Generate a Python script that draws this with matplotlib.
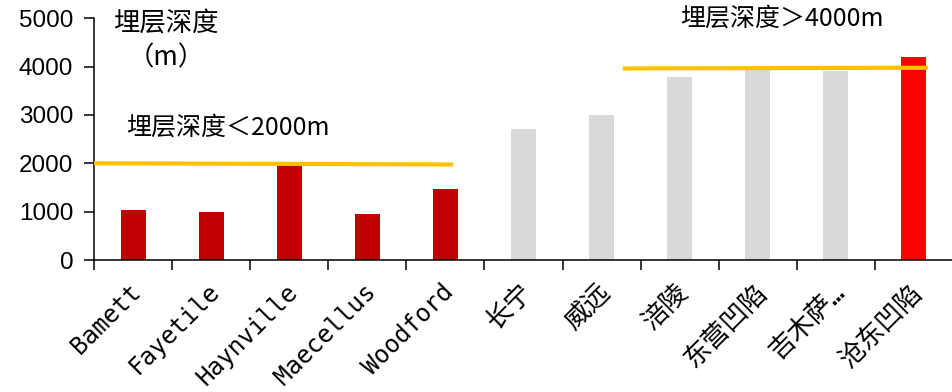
import matplotlib.pyplot as plt
import matplotlib.transforms as mtrans
import numpy as np

plt.rcParams['font.family'] = ['DejaVu Sans Mono', 'Noto Sans CJK SC']

# burial depth of shale gas plays (m)
basins = ["Bamett", "Fayetile", "Haynville", "Maecellus", "Woodford",
          "长宁", "威远", "涪陵", "东营凹陷", "吉木萨…", "沧东凹陷"]
depth = [1040, 1000, 1950, 950, 1470, 2700, 3000, 3780, 3960, 3900, 4200]
colors = ["#C00000"] * 5 + ["#D9D9D9"] * 5 + ["#FF0000"]

# reference lines for shallow / deep groups
shallow_x = [-0.5, 4.1]
shallow_y = [2000, 1975]
deep_x = [6.27, 10.18]
deep_y = [3960, 3975]

fig = plt.figure(figsize=(9.53, 3.92), dpi=100)
ax = fig.add_axes([0.0986, 0.3367, 0.9014, 0.617])

x = np.arange(len(basins))
ax.bar(x, depth, width=0.32, color=colors, zorder=2)
ax.plot(shallow_x, shallow_y, color="#FFC000", lw=3, zorder=3, solid_capstyle="butt")
ax.plot(deep_x, deep_y, color="#FFC000", lw=3, zorder=3, solid_capstyle="butt")

ax.set_xlim(-0.5, len(basins) - 0.5)
ax.set_ylim(0, 5000)
ax.set_yticks(range(0, 5001, 1000))
ax.set_yticklabels([str(v) for v in range(0, 5001, 1000)],
                   family="Liberation Sans", fontsize=17.5)
ax.tick_params(axis="y", length=7, width=1.1, pad=8)

ax.set_xticks(x)
ax.set_xticklabels(basins, rotation=45, ha="right", va="top",
                   rotation_mode="anchor")
ax.tick_params(axis="x", which="major", length=0, pad=14)
ax.set_xticks(np.arange(-0.5, len(basins)), minor=True)
ax.tick_params(axis="x", which="minor", length=7, width=1.1, direction="out")

# latin names and chinese names get different sizes
offset = mtrans.ScaledTranslation(-4 / 100, 0, fig.dpi_scale_trans)
for lab in ax.get_xticklabels():
    lab.set_fontsize(17.5 if lab.get_text().isascii() else 19)
    lab.set_transform(lab.get_transform() + offset)

for side in ("top", "right"):
    ax.spines[side].set_visible(False)
for side in ("left", "bottom"):
    ax.spines[side].set_linewidth(1.1)

ann_font = ["Noto Sans CJK SC", "DejaVu Sans"]
ax.text(0.42, 4525, "埋层深度\n（m）", ha="center", va="center",
        fontsize=19, family=ann_font, linespacing=1.35)
ax.text(-0.09, 2727, "埋层深度＜2000m", ha="left", va="center",
        fontsize=18, family=ann_font)
ax.text(7.0, 5000, "埋层深度＞4000m", ha="left", va="center",
        fontsize=18, family=ann_font)

fig.savefig("out.png", dpi=100)
